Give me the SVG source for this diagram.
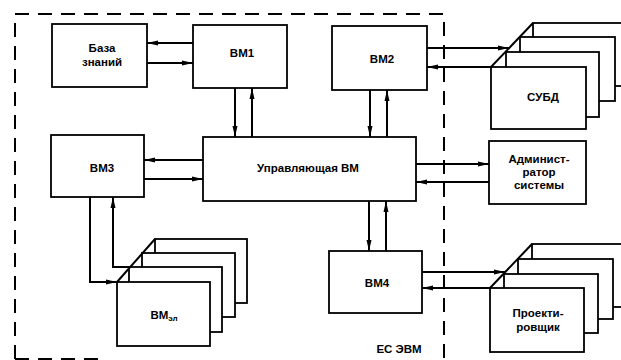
<svg xmlns="http://www.w3.org/2000/svg" width="621" height="360" viewBox="0 0 621 360">
<defs>
<style>
.box{fill:#fff;stroke:#000;stroke-width:1.8}
.ln{fill:none;stroke:#000;stroke-width:2}
.dash{fill:none;stroke:#000;stroke-width:2;stroke-dasharray:14 9}
.t{font-family:"Liberation Sans",Arial,sans-serif;font-weight:bold;font-size:11.5px;fill:#000;text-anchor:middle}
.a{marker-end:url(#ah)}
</style>
<marker id="ah" markerUnits="userSpaceOnUse" markerWidth="12" markerHeight="8" refX="11" refY="3" orient="auto">
<path d="M0,0.5 L11,3 L0,5.5 z" fill="#000"/>
</marker>
</defs>
<rect width="621" height="360" fill="#fff"/>
<g id="border">
<path class="dash" d="M15,359 L15,14 L444,14 L444,360"/>
<path class="dash" d="M15,359 L105,359"/>
<text class="t" x="399" y="353">ЕС ЭВМ</text>
</g>
<g id="baza">
<rect class="box" x="52" y="24" width="95" height="63"/>
<text class="t" x="102" y="52">База</text>
<text class="t" x="102" y="66">знаний</text>
</g>
<g id="vm1">
<rect class="box" x="193" y="25" width="94" height="63"/>
<text class="t" x="242" y="57">ВМ1</text>
</g>
<g id="vm2">
<rect class="box" x="332" y="26" width="95" height="64"/>
<text class="t" x="382" y="63">ВМ2</text>
</g>
<g id="upr">
<rect class="box" x="203" y="137" width="213" height="64"/>
<text class="t" x="308" y="172">Управляющая ВМ</text>
</g>
<g id="vm3">
<rect class="box" x="51" y="135" width="93" height="62"/>
<text class="t" x="102" y="172">ВМ3</text>
</g>
<g id="vm4">
<rect class="box" x="329" y="251" width="93" height="62"/>
<text class="t" x="377" y="287">ВМ4</text>
</g>
<g id="admin">
<rect class="box" x="489" y="141" width="97" height="63"/>
<text class="t" x="539" y="163">Админист-</text>
<text class="t" x="539" y="176">ратор</text>
<text class="t" x="539" y="189">системы</text>
</g>
<g id="subd">
<rect class="box" x="533" y="23" width="100" height="63"/>
<rect class="box" x="520" y="37" width="95" height="64"/>
<rect class="box" x="506" y="52" width="93" height="65"/>
<rect class="box" x="491" y="67" width="95" height="62"/>
<path class="ln" d="M491,67 L533,23"/>
<text class="t" x="543" y="101">СУБД</text>
</g>
<g id="proekt">
<rect class="box" x="532" y="244" width="100" height="63"/>
<rect class="box" x="518" y="259" width="95" height="60"/>
<rect class="box" x="504" y="274" width="94" height="59"/>
<rect class="box" x="490" y="288" width="94" height="64"/>
<path class="ln" d="M490,288 L532,244"/>
<text class="t" x="538" y="317">Проекти-</text>
<text class="t" x="538" y="331">ровщик</text>
</g>
<g id="vmel">
<rect class="box" x="155" y="239" width="92" height="64"/>
<rect class="box" x="142" y="253" width="93" height="64"/>
<rect class="box" x="129" y="267" width="93" height="65"/>
<rect class="box" x="117" y="282" width="93" height="64"/>
<path class="ln" d="M117,282 L155,239"/>
<text class="t" x="164" y="319">ВМ<tspan font-size="8" dy="2">эл</tspan></text>
</g>
<g id="connectors">
<path class="ln a" d="M193,43 L147,43"/>
<path class="ln a" d="M147,63 L193,63"/>
<path class="ln a" d="M235,88 L235,137"/>
<path class="ln a" d="M252,137 L252,88"/>
<path class="ln a" d="M370,90 L370,137"/>
<path class="ln a" d="M387,137 L387,90"/>
<path class="ln a" d="M427,48 L509,48"/>
<path class="ln a" d="M491,67 L427,67"/>
<path class="ln a" d="M203,160 L144,160"/>
<path class="ln a" d="M144,179 L203,179"/>
<path class="ln a" d="M416,164 L489,164"/>
<path class="ln a" d="M489,182 L416,182"/>
<path class="ln a" d="M369,201 L369,251"/>
<path class="ln a" d="M386,251 L386,201"/>
<path class="ln a" d="M422,272 L505,272"/>
<path class="ln a" d="M490,288 L422,288"/>
<path class="ln a" d="M90,197 L90,282 L117,282"/>
<path class="ln a" d="M130,267 L113,267 L113,197"/>
</g>
</svg>
